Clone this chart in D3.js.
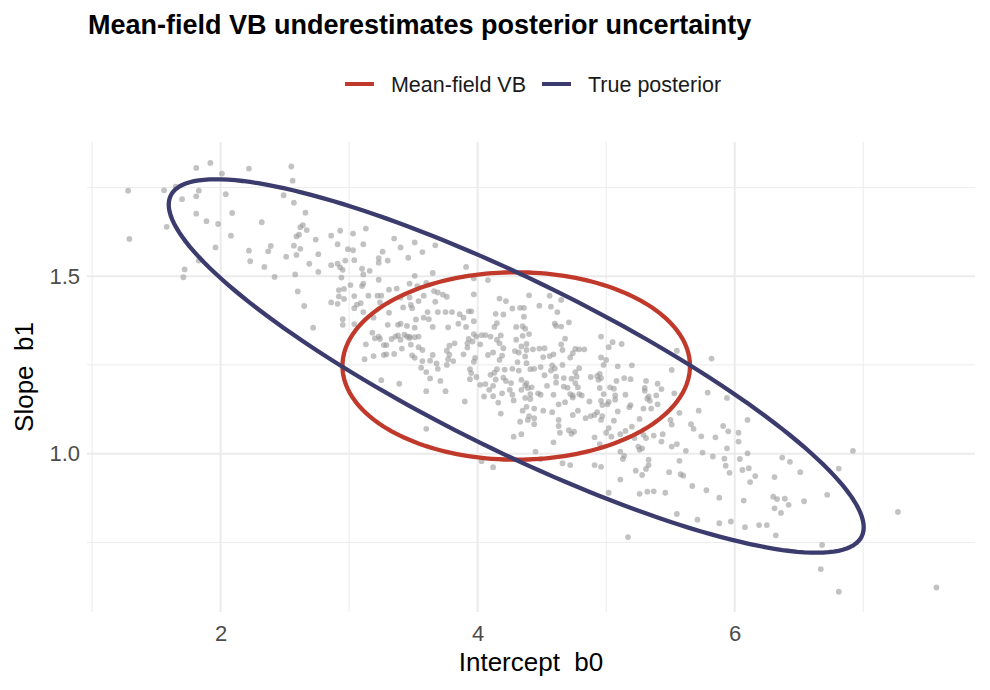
<!DOCTYPE html>
<html>
<head>
<meta charset="utf-8">
<script src="https://cdn.jsdelivr.net/npm/d3@7"></script>
<style>
	body { margin: 0; background: #fff; }
	text { font-family: "Liberation Sans", Arial, sans-serif; }
</style>
</head>
<body>
<svg id="chart" width="990" height="690"></svg>
<script>
// posterior draws [b0, b1]
const posteriorDraws = [
	[1.81,1.805],[1.92,1.819],[2.22,1.803],[2.55,1.809],[2.01,1.789],[2.56,1.769],[1.28,1.741],[1.56,1.742],[1.65,1.752],[1.83,1.741],
	[1.70,1.717],[1.81,1.725],[2.04,1.731],[2.49,1.728],[2.57,1.707],[2.66,1.679],[1.81,1.676],[2.09,1.678],[1.89,1.655],[1.98,1.647],
	[2.32,1.652],[1.58,1.639],[2.64,1.644],[2.62,1.638],[2.67,1.630],[1.29,1.605],[2.08,1.614],[2.59,1.612],[2.61,1.617],[2.74,1.603],
	[1.96,1.581],[2.39,1.585],[2.37,1.570],[2.22,1.572],[2.57,1.586],[2.62,1.577],[2.76,1.562],[2.51,1.555],[2.59,1.560],[2.23,1.542],
	[1.83,1.544],[2.69,1.535],[2.34,1.526],[1.72,1.519],[1.71,1.497],[2.42,1.498],[2.58,1.505],[2.76,1.512],[2.60,1.457],[2.65,1.416],
	[2.86,1.426],[2.72,1.355],
	[2.93,1.628],[3.03,1.620],[3.13,1.634],[2.86,1.614],[2.91,1.590],[3.11,1.590],[3.35,1.606],[3.51,1.595],[3.67,1.587],[2.99,1.576],
	[3.03,1.573],[3.26,1.569],[3.40,1.581],[3.57,1.568],[3.23,1.551],[3.30,1.544],[3.46,1.552],[2.97,1.544],[3.04,1.545],[2.91,1.535],
	[2.93,1.525],[2.95,1.518],[2.86,1.531],[3.10,1.521],[3.16,1.515],[3.23,1.538],[3.65,1.509],[3.91,1.526],[2.94,1.496],[3.11,1.505],
	[3.23,1.490],[3.51,1.501],[3.47,1.479],[3.60,1.481],[4.08,1.489],[3.97,1.494],[3.01,1.475],[2.96,1.464],[2.92,1.461],[3.10,1.472],
	[3.11,1.479],[3.31,1.462],[3.37,1.465],[3.53,1.472],[3.66,1.458],[3.69,1.454],[3.73,1.448],[3.76,1.442],[3.97,1.449],[3.15,1.445],
	[3.04,1.444],[2.92,1.443],[3.22,1.445],[3.25,1.445],[3.40,1.440],[3.47,1.440],[3.54,1.430],[3.58,1.445],[3.67,1.428],[3.09,1.424],
	[3.06,1.420],[2.96,1.436],[3.24,1.426],[2.91,1.422],[3.04,1.410],[3.11,1.399],[3.48,1.419],[3.49,1.410],[3.42,1.412],[3.31,1.397],
	[3.61,1.399],[3.69,1.399],[3.75,1.399],[3.80,1.399],[3.86,1.393],[3.93,1.401],[3.95,1.401],[4.17,1.437],[4.22,1.430],[4.27,1.409],
	[4.33,1.411],[4.36,1.411],[4.40,1.446],[4.14,1.394],[4.20,1.392],[2.95,1.379],[2.95,1.363],[3.04,1.365],[3.19,1.383],[3.18,1.341],
	[3.30,1.363],[3.38,1.363],[3.40,1.366],[3.52,1.378],[3.58,1.383],[3.62,1.379],[3.65,1.357],[3.51,1.355],[3.45,1.360],[3.77,1.356],
	[3.85,1.366],[3.91,1.357],[3.89,1.383],[3.97,1.373],[4.03,1.334],[4.06,1.334],[3.97,1.337],[4.13,1.357],[4.15,1.368],[4.30,1.357],
	[4.35,1.359],[4.35,1.332],[4.18,1.333],[3.23,1.330],[3.36,1.330],[3.43,1.335],[3.54,1.330],[3.47,1.330],
	[3.24,1.323],[3.20,1.325],[3.13,1.308],[3.27,1.306],[3.29,1.306],[3.33,1.323],[3.38,1.333],[3.40,1.321],[3.45,1.330],[3.47,1.326],
	[3.51,1.328],[3.48,1.307],[3.54,1.300],[3.57,1.292],[3.41,1.296],[3.35,1.281],[3.29,1.280],[3.27,1.278],[3.19,1.275],[3.12,1.266],
	[3.49,1.277],[3.51,1.270],[3.57,1.261],[3.63,1.262],[3.65,1.278],[3.68,1.254],[3.56,1.242],[3.60,1.230],[3.69,1.239],[3.76,1.250],
	[3.77,1.266],[3.78,1.279],[3.81,1.261],[3.76,1.290],[3.78,1.304],[3.82,1.311],[3.63,1.212],[3.71,1.205],[3.60,1.176],[3.75,1.176],
	[3.25,1.207],[3.39,1.197],[3.60,1.070],[3.90,1.147],[3.89,1.280],[3.92,1.311],[3.93,1.323],[3.92,1.299],[3.96,1.316],[3.99,1.330],
	[4.02,1.308],[3.97,1.259],[3.98,1.270],[3.94,1.238],[3.95,1.227],[3.99,1.216],[3.94,1.210],[4.02,1.194],[4.06,1.196],[4.05,1.161],
	[4.09,1.180],[4.12,1.191],[4.12,1.162],[4.16,1.144],[4.18,1.113],[4.08,1.278],[4.12,1.285],[4.17,1.264],[4.19,1.276],[4.17,1.311],
	[4.20,1.297],[4.21,1.237],[4.13,1.228],[4.10,1.222],[4.15,1.238],[4.14,1.209],[4.20,1.214],[4.22,1.205],[4.26,1.199],[4.19,1.170],
	[4.25,1.180],[4.28,1.150],[4.27,1.166],[4.29,1.289],[4.32,1.285],[4.31,1.258],[4.27,1.239],[4.32,1.234],[4.34,1.208],[4.37,1.192],
	[4.34,1.180],[4.37,1.157],[4.35,1.121],[4.33,1.090],[4.28,1.048],[4.34,1.055],[4.38,1.132],[4.03,0.979],[4.12,0.962],[4.30,1.321],
	[4.34,1.302],[4.38,1.309],[4.38,1.255],[4.37,1.274],[4.10,1.330],[4.15,1.321],
	[4.56,1.445],[4.65,1.433],[4.48,1.417],[4.57,1.414],[4.62,1.399],[4.36,1.386],[4.60,1.366],[4.61,1.360],[4.65,1.358],[4.71,1.370],
	[4.37,1.352],[4.40,1.337],[4.68,1.324],[4.65,1.308],[4.96,1.330],[5.05,1.314],[5.02,1.300],[5.12,1.309],[4.38,1.292],[4.43,1.294],
	[4.48,1.296],[4.52,1.297],[4.66,1.292],[4.76,1.295],[4.79,1.294],[4.83,1.294],[4.59,1.280],[4.56,1.275],[4.51,1.272],[4.74,1.283],
	[4.72,1.271],[4.96,1.271],[5.00,1.264],[4.98,1.250],[4.49,1.244],[4.58,1.249],[4.60,1.240],[4.57,1.234],[4.66,1.250],[4.79,1.241],
	[4.76,1.230],[4.77,1.217],[5.09,1.246],[5.20,1.249],[5.55,1.290],[5.82,1.268],[5.51,1.236],[4.41,1.238],[4.44,1.239],[4.52,1.221],
	[4.61,1.217],[4.67,1.213],[4.73,1.211],[4.88,1.216],[4.93,1.219],[4.95,1.225],[4.94,1.208],[4.96,1.213],[5.08,1.205],[5.14,1.213],
	[5.19,1.210],[5.31,1.205],[5.30,1.185],[5.30,1.177],[5.40,1.197],[5.43,1.182],[4.38,1.199],[4.42,1.187],[4.39,1.185],[4.54,1.191],
	[4.61,1.200],[4.67,1.189],[4.70,1.186],[4.76,1.199],[4.78,1.187],[4.95,1.185],[5.03,1.187],[5.06,1.183],[4.41,1.168],[4.47,1.170],
	[4.49,1.166],[4.59,1.166],[4.72,1.168],[4.74,1.164],[4.79,1.168],[4.81,1.164],[4.98,1.168],[5.07,1.164],[5.15,1.166],[5.33,1.161],
	[5.39,1.164],[5.53,1.170],[5.79,1.172],
	[4.41,1.154],[4.44,1.127],[4.51,1.121],[4.40,1.106],[4.44,1.100],[4.39,1.095],[4.44,1.083],[4.58,1.117],[4.63,1.139],[4.68,1.145],
	[4.74,1.158],[4.87,1.147],[4.78,1.121],[4.74,1.109],[4.63,1.095],[4.63,1.078],[4.71,1.066],[4.75,1.062],[4.73,1.056],[4.64,1.059],
	[4.59,1.032],[4.84,1.100],[4.88,1.106],[4.91,1.109],[4.93,1.117],[4.96,1.095],[4.97,1.106],[4.97,1.137],[4.96,1.149],[5.01,1.139],
	[5.02,1.146],[5.07,1.152],[5.09,1.119],[5.06,1.093],[5.02,1.072],[5.04,1.048],[4.91,1.046],[4.95,1.027],[5.00,1.059],[5.11,1.055],
	[5.18,1.131],[5.19,1.137],[5.32,1.155],[5.34,1.149],[5.35,1.127],[5.29,1.127],[5.40,1.139],[5.26,1.098],[5.20,1.076],[5.15,1.064],
	[5.29,1.053],[5.31,1.044],[5.37,1.051],[5.44,1.055],[5.22,1.044],[5.25,1.020],[5.26,1.011],[5.28,1.015],[5.11,1.006],[5.14,0.994],
	[5.13,0.985],[5.43,1.034],[5.51,1.020],[5.55,1.027],[5.50,1.095],[5.51,1.082],[5.57,1.115],[5.66,1.083],[5.68,1.070],[5.72,1.121],
	[5.74,1.049],[5.85,1.046],[5.62,1.008],[5.75,1.003],[5.83,0.992],[4.45,1.006],[4.49,0.985],[4.66,0.973],[4.72,0.968],[4.91,0.968],
	[4.96,0.963],[5.33,0.983],[5.33,0.968],[5.31,0.957],[5.23,0.952],[5.28,0.940],[5.11,0.927],[5.49,0.948],[5.57,0.980],[5.58,0.942],
	[5.60,0.938],[5.67,0.909],[5.78,0.897],[5.88,0.876],[5.26,0.887],[5.32,0.893],[5.37,0.894],[5.46,0.890],[5.02,0.890],[5.55,0.830],
	[5.71,0.814],[5.88,0.804],[5.17,0.765],
	[6.92,1.008],[6.81,0.958],[6.72,0.884],[7.27,0.836],[6.68,0.743],[6.67,0.675],[6.81,0.611],[7.57,0.623],[6.54,0.866],[6.42,0.856],
	[6.39,0.873],[6.36,0.833],[6.31,0.846],[6.30,0.879],[6.33,0.872],[6.32,0.770],[6.19,0.799],[6.25,0.799],[6.08,0.793],[5.97,0.809],
	[6.07,0.868],[6.12,0.920],[6.16,0.937],[6.31,0.934],[6.37,0.989],[6.43,0.977],[6.51,0.948],[6.06,0.954],[6.11,0.959],[5.96,0.946],
	[5.92,0.986],[5.93,0.966],[6.04,0.985],[6.10,1.001],[6.03,1.034],[6.03,1.059],[5.94,1.015],[5.95,1.063],[5.91,1.078],[6.10,1.095],
	[5.94,1.157]
]

// ellipse summaries: centre [b0, b1], half extents along b0 and b1, correlation
const ellipseNames   = ["Mean-field VB", "True posterior"]
const ellipseCentres = [[4.30, 1.247], [4.30, 1.247]]
const ellipseHalfB0  = [1.352, 2.704]
const ellipseHalfB1  = [0.264, 0.526]
const ellipseRho     = [0, -0.864]
const ellipseColours = ["#C0392B", "#3B3B6E"]

// axis limits and ticks
const xLimits     = [0.96, 7.87]
const yLimits     = [0.554, 1.878]
const xMajorTicks = [2, 4, 6]
const xMinorTicks = [1, 3, 5, 7]
const yMajorTicks = [1.0, 1.5]
const yMinorTicks = [0.75, 1.25, 1.75]

const svg = d3.select("#chart")
const panel = {left: 87, right: 975, top: 142, bottom: 612}
const tickFontSize = 22

const xScale = d3.scaleLinear().domain(xLimits).range([panel.left, panel.right])
const yScale = d3.scaleLinear().domain(yLimits).range([panel.bottom, panel.top])

// grid
const grid = svg.append("g")
grid.selectAll(".xminor").data(xMinorTicks).join("line")
	.attr("x1", d => xScale(d)).attr("x2", d => xScale(d))
	.attr("y1", panel.top).attr("y2", panel.bottom)
	.attr("stroke", "#EBEBEB").attr("stroke-width", 1)
grid.selectAll(".yminor").data(yMinorTicks).join("line")
	.attr("y1", d => yScale(d)).attr("y2", d => yScale(d))
	.attr("x1", panel.left).attr("x2", panel.right)
	.attr("stroke", "#EBEBEB").attr("stroke-width", 1)
grid.selectAll(".xmajor").data(xMajorTicks).join("line")
	.attr("x1", d => xScale(d)).attr("x2", d => xScale(d))
	.attr("y1", panel.top).attr("y2", panel.bottom)
	.attr("stroke", "#EBEBEB").attr("stroke-width", 2)
grid.selectAll(".ymajor").data(yMajorTicks).join("line")
	.attr("y1", d => yScale(d)).attr("y2", d => yScale(d))
	.attr("x1", panel.left).attr("x2", panel.right)
	.attr("stroke", "#EBEBEB").attr("stroke-width", 2)

// axes (labels only, theme_minimal has no axis lines)
let xAxisGroup = svg.append("g")
	.attr("transform", "translate(0," + (panel.bottom + 10) + ")")
	.call(d3.axisBottom(xScale).tickValues(xMajorTicks).tickSize(0).tickFormat(d3.format("d")))
xAxisGroup.select(".domain").remove()
xAxisGroup.selectAll("text")
	.style("font-size", tickFontSize + "px")
	.style("fill", "#4D4D4D")
	.style("font-family", "Liberation Sans, Arial, sans-serif")

let yAxisGroup = svg.append("g")
	.attr("transform", "translate(" + (panel.left - 4) + ",0)")
	.call(d3.axisLeft(yScale).tickValues(yMajorTicks).tickSize(0).tickFormat(d3.format(".1f")))
yAxisGroup.select(".domain").remove()
yAxisGroup.selectAll("text")
	.style("font-size", tickFontSize + "px")
	.style("fill", "#4D4D4D")
	.style("font-family", "Liberation Sans, Arial, sans-serif")

// points
svg.append("g").selectAll("circle").data(posteriorDraws).join("circle")
	.attr("cx", d => xScale(d[0]))
	.attr("cy", d => yScale(d[1]))
	.attr("r", 2.9)
	.attr("fill", "#999999")
	.attr("fill-opacity", 0.6)

// ellipses
const line = d3.line().x(d => xScale(d[0])).y(d => yScale(d[1]))
ellipseNames.forEach((name, i) => {
	const c = ellipseCentres[i], hx = ellipseHalfB0[i], hy = ellipseHalfB1[i], r = ellipseRho[i]
	const pts = d3.range(0, 361, 2).map(a => {
		const t = a * Math.PI / 180
		return [c[0] + hx * Math.cos(t), c[1] + hy * (r * Math.cos(t) + Math.sqrt(1 - r * r) * Math.sin(t))]
	})
	svg.append("path")
		.attr("d", line(pts) + "Z")
		.attr("fill", "none")
		.attr("stroke", ellipseColours[i])
		.attr("stroke-width", 4.3)
		.attr("stroke-linejoin", "round")
})

// title
svg.append("text")
	.attr("x", 88).attr("y", 34)
	.style("font-size", "27px")
	.style("font-weight", "bold")
	.style("fill", "#000")
	.text("Mean-field VB underestimates posterior uncertainty")

// legend
const legend = svg.append("g")
let lx = 0
ellipseNames.forEach((name, i) => {
	const g = legend.append("g")
	g.append("line").attr("x1", 0).attr("x2", 29).attr("y1", 0).attr("y2", 0)
		.attr("stroke", ellipseColours[i]).attr("stroke-width", 4)
	const t = g.append("text").attr("x", 46).attr("y", 7.5)
		.style("font-size", "21.5px").style("fill", "#1A1A1A").text(name)
	g.attr("transform", "translate(" + lx + ",0)")
	lx += 46 + t.node().getComputedTextLength() + 16
})
const legendWidth = lx - 16
legend.attr("transform", "translate(" + (533 - legendWidth / 2) + ",84)")

// axis titles
svg.append("text")
	.attr("x", (panel.left + panel.right) / 2).attr("y", 671)
	.attr("text-anchor", "middle")
	.style("font-size", "26px").style("fill", "#000")
	.text("Intercept \u00a0b0")

svg.append("text")
	.attr("transform", "translate(33," + (panel.top + panel.bottom) / 2 + ") rotate(-90)")
	.attr("text-anchor", "middle")
	.style("font-size", "26px").style("fill", "#000")
	.text("Slope \u00a0b1")
</script>
</body>
</html>
